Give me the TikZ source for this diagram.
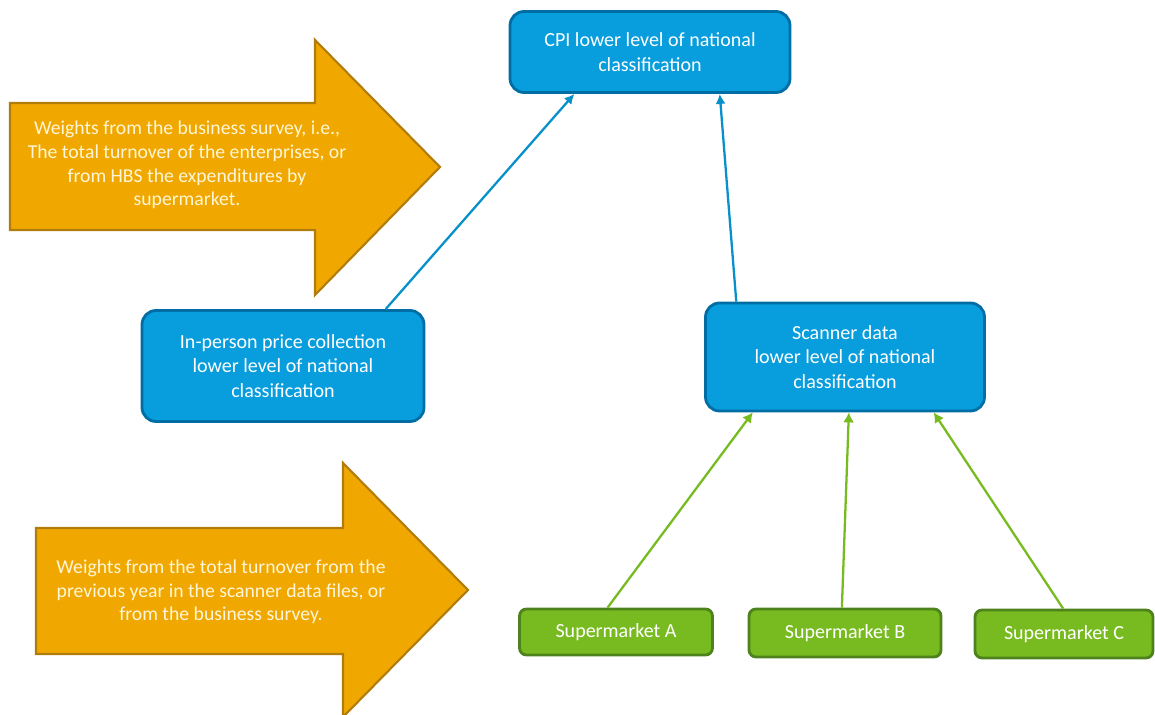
\documentclass[tikz,border=0pt]{standalone}
\usepackage{fontspec}
\setmainfont{Carlito}
\usetikzlibrary{arrows.meta}

\definecolor{cpiblue}{RGB}{8,157,220}
\definecolor{cpiblueline}{RGB}{0,110,165}
\definecolor{wtorange}{RGB}{240,168,0}
\definecolor{wtorangeline}{RGB}{178,124,10}
\definecolor{smgreen}{RGB}{120,187,32}
\definecolor{smgreenline}{RGB}{78,130,28}
\definecolor{wttext}{RGB}{255,246,215}

\begin{document}
\begin{tikzpicture}[
    bluebox/.style={draw=cpiblueline, fill=cpiblue, line width=1.6pt, rounded corners=8pt,
        text=white, align=center, font=\fontsize{11.4}{14}\selectfont},
    greenbox/.style={draw=smgreenline, fill=smgreen, line width=1.6pt, rounded corners=4pt,
        text=white, align=center, font=\fontsize{11.4}{14}\selectfont},
    wtarrow/.style={draw=wtorangeline, fill=wtorange, line width=1.2pt},
    wtlabel/.style={text=wttext, align=center, font=\fontsize{11.2}{13.5}\selectfont},
    bluelink/.style={-{Latex[length=2mm,width=2mm]}, cpiblue!92!black, line width=1.3pt},
    greenlink/.style={-{Latex[length=2mm,width=2.2mm]}, smgreen, line width=1.3pt}]

    \useasboundingbox (0,0) rectangle (23.1,14.3);

    % weight arrows
    \draw [wtarrow] (0.2,12.24) -- (6.3,12.24) -- (6.3,13.5) -- (8.8,10.96)
        -- (6.3,8.4) -- (6.3,9.7) -- (0.2,9.7) -- cycle;
    \node (wt_hbs) [wtlabel] at (3.74,11.0) {Weights from the business survey, i.e.,\\
        The total turnover of the enterprises, or\\ from HBS the expenditures by\\ supermarket.};

    \draw [wtarrow] (0.72,3.74) -- (6.86,3.74) -- (6.86,5.04) -- (9.36,2.5)
        -- (6.86,-0.04) -- (6.86,1.22) -- (0.72,1.22) -- cycle;
    \node (wt_scan) [wtlabel] at (4.42,2.46) {Weights from the total turnover from the\\
        previous year in the scanner data files, or\\ from the business survey.};

    % blue boxes
    \node (cpi) [bluebox, minimum width=5.6cm, minimum height=1.62cm] at (13.0,13.26)
        {CPI lower level of national\\ classification};
    \node (inperson) [bluebox, minimum width=5.64cm, minimum height=2.22cm] at (5.66,6.98)
        {In-person price collection\\ lower level of national\\ classification};
    \node (scanner) [bluebox, minimum width=5.58cm, minimum height=2.16cm] at (16.9,7.16)
        {Scanner data\\ lower level of national\\ classification};

    % supermarkets
    \node (sup_a) [greenbox, minimum width=3.86cm, minimum height=0.92cm] at (12.32,1.66) {Supermarket A};
    \node (sup_b) [greenbox, minimum width=3.84cm, minimum height=0.96cm] at (16.9,1.64) {Supermarket B};
    \node (sup_c) [greenbox, minimum width=3.56cm, minimum height=0.96cm] at (21.28,1.62) {Supermarket C};

    \draw [bluelink] (inperson.29) -- (cpi.209);
    \draw [bluelink] (scanner.153) -- (cpi.329);

    \draw [greenlink] (sup_a.109) -- (scanner.211);
    \draw [greenlink] (sup_b.97) -- (scanner.274);
    \draw [greenlink] (sup_c.92) -- (scanner.328);

\end{tikzpicture}
\end{document}
